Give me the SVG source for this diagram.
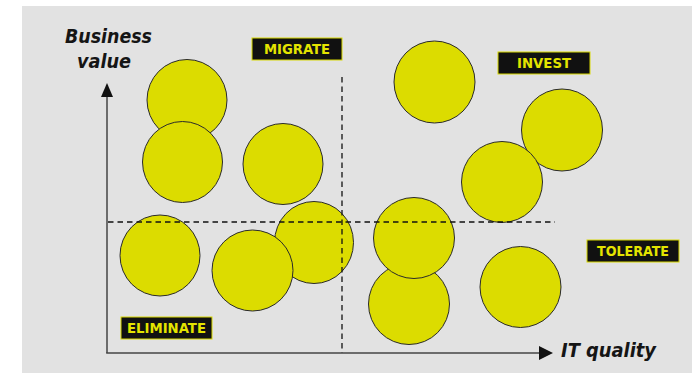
<svg xmlns="http://www.w3.org/2000/svg" width="692" height="373" viewBox="0 0 692 373">
<style>
.bub{fill:#dcdc00;stroke:#2a2a2a;stroke-width:1}
.tag rect{fill:#111;stroke:#d8d800;stroke-width:1}
.tag text{fill:#e4e400;font-family:"DejaVu Sans Condensed","DejaVu Sans","Liberation Sans",sans-serif;font-weight:bold;font-size:13.5px;text-anchor:middle}
.ax{fill:#151515;font-family:"DejaVu Sans Condensed","DejaVu Sans","Liberation Sans",sans-serif;font-weight:bold;font-style:italic;font-size:19px}
.axis{stroke:#444;stroke-width:1.5;fill:none}
.dash{stroke:#111;stroke-width:1.3;stroke-dasharray:5.5,4;fill:none}
</style>
<rect x="0" y="0" width="692" height="373" fill="#ffffff"/>
<rect x="22" y="6" width="670" height="367" fill="#e2e2e2"/>
<g id="bubbles">
<ellipse id="b1" class="bub" cx="187" cy="100" rx="40" ry="40.5"/>
<ellipse id="b2" class="bub" cx="182.5" cy="162" rx="40" ry="40.5"/>
<ellipse id="b3" class="bub" cx="283" cy="164" rx="40" ry="40.5"/>
<ellipse id="b4" class="bub" cx="434.5" cy="82" rx="40.5" ry="41"/>
<ellipse id="b5" class="bub" cx="562" cy="130" rx="40.5" ry="41"/>
<ellipse id="b6" class="bub" cx="502" cy="182" rx="40.5" ry="40.5"/>
<ellipse id="b7" class="bub" cx="160" cy="255.5" rx="40" ry="40.5"/>
<ellipse id="b9" class="bub" cx="314" cy="242.5" rx="39.5" ry="41"/>
<ellipse id="b8" class="bub" cx="252.5" cy="270.5" rx="40.5" ry="40.5"/>
<ellipse id="b10" class="bub" cx="409" cy="304" rx="40.5" ry="40.5"/>
<ellipse id="b11" class="bub" cx="414" cy="238" rx="40.5" ry="40.5"/>
<ellipse id="b12" class="bub" cx="520.5" cy="287" rx="40.5" ry="40.5"/>
</g>
<g id="connectors">
<line class="dash" x1="342" y1="77" x2="342" y2="353"/>
<line class="dash" x1="108" y1="222" x2="555" y2="222"/>
<line class="axis" x1="107" y1="353" x2="107" y2="95"/>
<line class="axis" x1="106.2" y1="353" x2="541" y2="353"/>
<polygon points="107,83 101,97 113,97" fill="#111"/>
<polygon points="553,353 539,346 539,360" fill="#111"/>
</g>
<g id="tag-migrate" class="tag"><rect x="252" y="38" width="90" height="22"/><text x="297" y="54" textLength="66" lengthAdjust="spacingAndGlyphs">MIGRATE</text></g>
<g id="tag-invest" class="tag"><rect x="498" y="52" width="92" height="22"/><text x="544" y="68" textLength="54" lengthAdjust="spacingAndGlyphs">INVEST</text></g>
<g id="tag-tolerate" class="tag"><rect x="587" y="240" width="92" height="22"/><text x="633" y="256" textLength="72" lengthAdjust="spacingAndGlyphs">TOLERATE</text></g>
<g id="tag-eliminate" class="tag"><rect x="121" y="317" width="91" height="22"/><text x="166.5" y="333" textLength="79" lengthAdjust="spacingAndGlyphs">ELIMINATE</text></g>
<g id="axis-labels">
<text class="ax" x="65" y="43" textLength="87" lengthAdjust="spacingAndGlyphs">Business</text>
<text class="ax" x="77" y="68" textLength="54" lengthAdjust="spacingAndGlyphs">value</text>
<text class="ax" x="561" y="357" textLength="95" lengthAdjust="spacingAndGlyphs">IT quality</text>
</g>
</svg>
